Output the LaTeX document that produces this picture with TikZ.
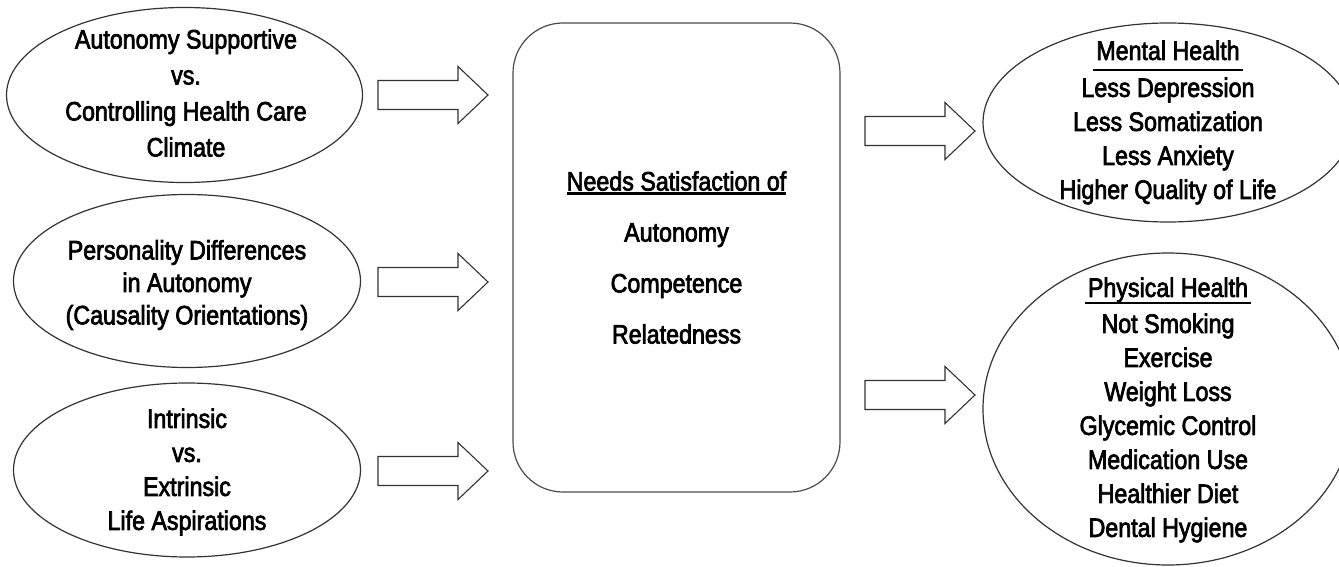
\documentclass[tikz,border=0pt]{standalone}
\usepackage{fontspec}
\setmainfont[FakeStretch=0.87,FakeBold=2.6]{Liberation Sans}
\usetikzlibrary{shapes.geometric}

% text with a rule drawn below it: #1 drop, #2 overhang on each side, #3 text
\newcommand\hdrule[3]{%
  \setbox0\hbox{#3}%
  \leavevmode\rlap{\kern-#2\rule[-#1]{\dimexpr\wd0+#2+#2\relax}{2.2pt}}\box0}

\begin{document}
\begin{tikzpicture}[x=1pt,y=-1pt,
  line width=1.2pt,
  oval/.style={draw=black!80, ellipse, inner sep=0pt},
  txt/.style={align=center, inner sep=0pt, font=\fontsize{26.7}{34}\selectfont},
  hub/.style={draw=black!70, rounded corners=50pt, inner sep=0pt,
              minimum width=327pt, minimum height=469pt},
  blockarrow/.pic={\draw[draw=black!80, line width=1.1pt, line join=miter]
      (0,-14.5) -- (80,-14.5) -- (80,-28.5) -- (110,0) -- (80,28.5)
      -- (80,14.5) -- (0,14.5) -- cycle;}
]
\useasboundingbox (0,0) rectangle (1339,567);

% input ellipses
\node[oval, minimum width=356pt, minimum height=175pt] (e1) at (184.5,95) {};
\node[oval, minimum width=347pt, minimum height=173pt] (e2) at (187,281) {};
\node[oval, minimum width=347pt, minimum height=174pt] (e3) at (187,470) {};

% (yshift works in page units: positive moves the text up)
\node[txt, font=\fontsize{26.7}{36}\selectfont] (t1) at ([xshift=1.5pt,yshift=2pt]e1.center)
  {Autonomy Supportive\\vs.\\Controlling Health Care\\Climate};
\node[txt, font=\fontsize{26.7}{32.5}\selectfont] (t2) at ([yshift=-4pt]e2.center)
  {Personality Differences\\in Autonomy\\(Causality Orientations)};
\node[txt, font=\fontsize{26.7}{34}\selectfont] (t3) at ([yshift=-2pt]e3.center)
  {Intrinsic\\vs.\\Extrinsic\\Life Aspirations};

% central box
\node[hub] (hub) at (676.5,257.5) {};
\node[txt, font=\fontsize{26.7}{51}\selectfont] (ht) at (hub.center)
  {\hdrule{4pt}{0pt}{Needs Satisfaction of}\\Autonomy\\Competence\\Relatedness};

% outcome ellipses
\node[oval, minimum width=370pt, minimum height=199pt] (mh) at (1168,122.5) {};
\node[oval, minimum width=370pt, minimum height=312pt] (ph) at (1168,409) {};

\node[txt] (mt) at (mh.center)
  {\hdrule{11pt}{3pt}{Mental Health}\\[3pt]Less Depression\\Less Somatization\\Less Anxiety\\Higher Quality of Life};
\node[txt] (pt) at ([yshift=-1pt]ph.center)
  {\hdrule{7pt}{3pt}{Physical Health}\\[2pt]Not Smoking\\Exercise\\Weight Loss\\Glycemic Control\\Medication Use\\Healthier Diet\\Dental Hygiene};

% block arrows
\pic at (378,95) {blockarrow};
\pic at (378,282) {blockarrow};
\pic at (378,471) {blockarrow};
\pic at (865,131) {blockarrow};
\pic at (865,395) {blockarrow};
\end{tikzpicture}
\end{document}
